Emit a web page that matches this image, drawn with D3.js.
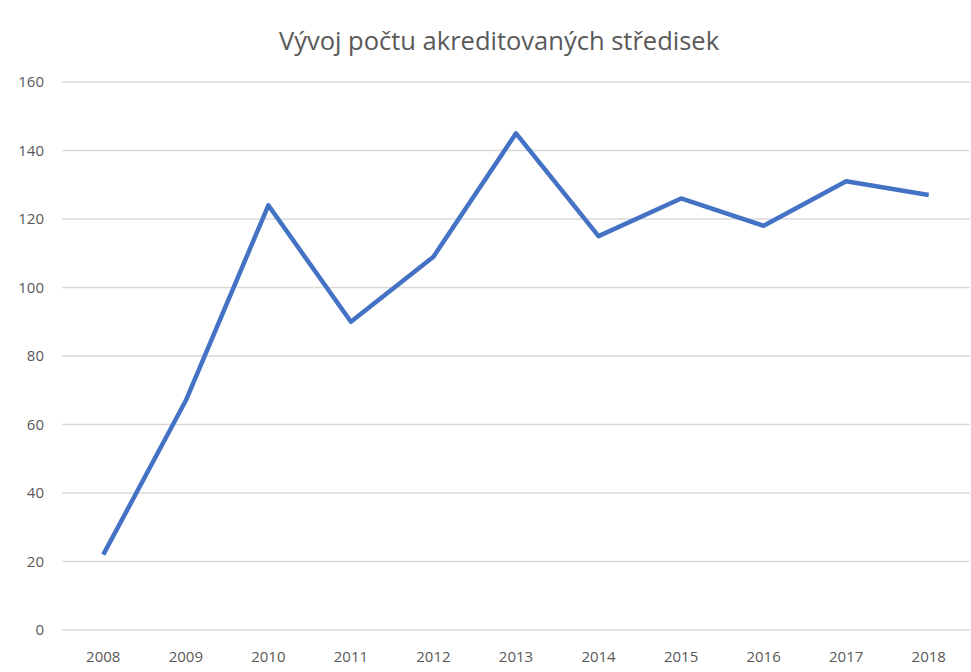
<!DOCTYPE html>
<html>
<head>
<meta charset="utf-8">
<script src="https://cdn.jsdelivr.net/npm/d3@7"></script>
<style>
  body { margin: 0; background: #fff; }
  text { font-family: "Open Sans", "Noto Sans", sans-serif; fill: #595959; }
</style>
</head>
<body>
<svg id="chart" width="971" height="672"></svg>
<script>
var years = ["2008", "2009", "2010", "2011", "2012", "2013", "2014", "2015", "2016", "2017", "2018"];
var counts = [22, 67, 124, 90, 109, 145, 115, 126, 118, 131, 127];
var yTicks = [0, 20, 40, 60, 80, 100, 120, 140, 160];
var title = "Vývoj počtu akreditovaných středisek";

var svg = d3.select("#chart");
var plotLeft = 62, plotRight = 970, plotTop = 82, plotBottom = 630;

var x = d3.scaleBand().domain(years).range([plotLeft, plotRight]);
var y = d3.scaleLinear().domain([0, 160]).range([plotBottom, plotTop]);

// gridlines
svg.append("g").selectAll("line")
    .data(yTicks)
    .enter().append("line")
    .attr("x1", plotLeft).attr("x2", plotRight)
    .attr("y1", function(d){ return y(d); })
    .attr("y2", function(d){ return y(d); })
    .style("stroke", "#d9d9d9")
    .style("stroke-width", 1.5);

// y labels
svg.append("g").selectAll("text")
    .data(yTicks)
    .enter().append("text")
    .attr("x", 44)
    .attr("y", function(d){ return y(d); })
    .attr("dy", "0.35em")
    .attr("text-anchor", "end")
    .style("font-size", "15px")
    .text(function(d){ return d; });

// x labels
svg.append("g").selectAll("text")
    .data(years)
    .enter().append("text")
    .attr("x", function(d){ return x(d) + x.bandwidth() / 2; })
    .attr("y", 662)
    .attr("text-anchor", "middle")
    .style("font-size", "15px")
    .text(function(d){ return d; });

// line
var line = d3.line()
    .x(function(d, i){ return x(years[i]) + x.bandwidth() / 2; })
    .y(function(d){ return y(d); });

svg.append("path")
    .datum(counts)
    .attr("d", line)
    .style("fill", "none")
    .style("stroke", "#4472C4")
    .style("stroke-width", 4.5)
    .style("stroke-linejoin", "round");

// title
svg.append("text")
    .attr("x", 499)
    .attr("y", 50)
    .attr("text-anchor", "middle")
    .style("font-size", "25.5px")
    .text(title);
</script>
</body>
</html>
